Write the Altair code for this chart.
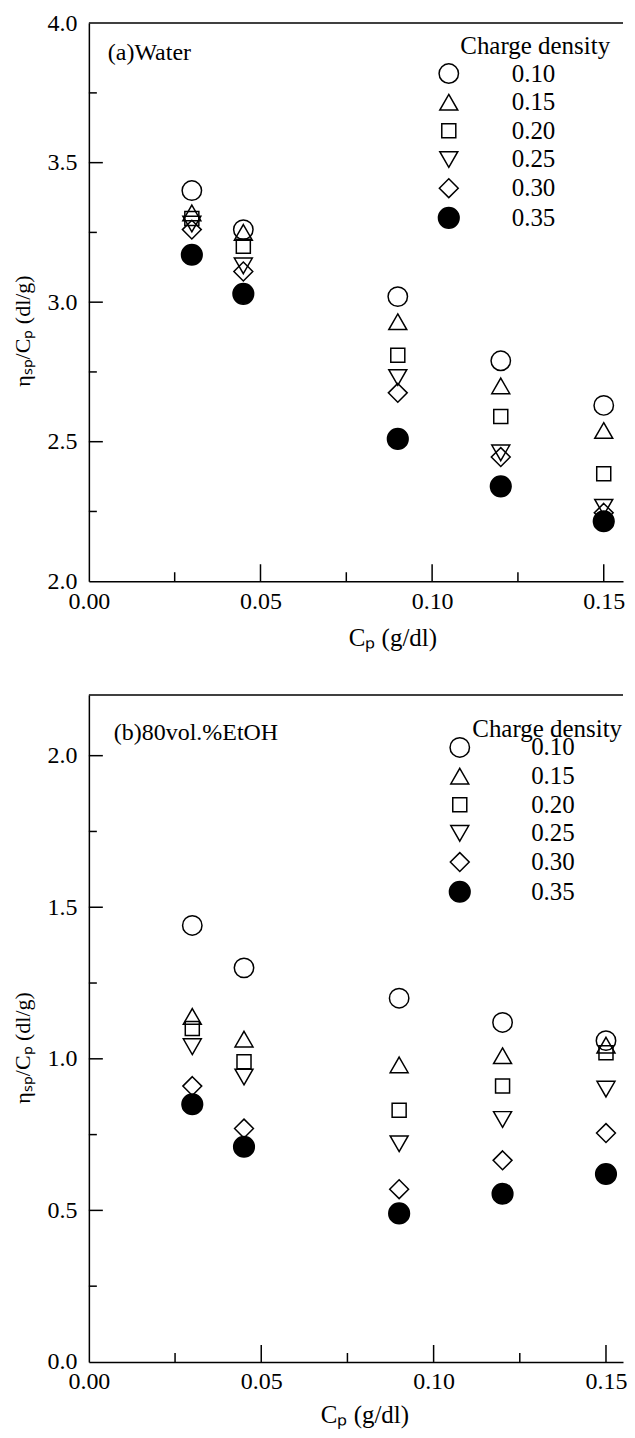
import altair as alt
import pandas as pd

FONT = "Liberation Serif"

# ---------------- data ----------------
cp_values = [0.03, 0.045, 0.09, 0.12, 0.15]
densities = ["0.10", "0.15", "0.20", "0.25", "0.30", "0.35"]

# (a) Water
water_010 = [3.40, 3.26, 3.02, 2.79, 2.63]
water_015 = [3.32, 3.25, 2.93, 2.70, 2.54]
water_020 = [3.30, 3.20, 2.81, 2.59, 2.385]
water_025 = [3.28, 3.13, 2.73, 2.46, 2.265]
water_030 = [3.26, 3.11, 2.675, 2.445, 2.245]
water_035 = [3.17, 3.03, 2.51, 2.34, 2.215]

# (b) 80 vol.% EtOH
etoh_010 = [1.44, 1.30, 1.20, 1.12, 1.06]
etoh_015 = [1.14, 1.065, 0.98, 1.01, 1.045]
etoh_020 = [1.10, 0.99, 0.83, 0.91, 1.02]
etoh_025 = [1.04, 0.94, 0.72, 0.80, 0.90]
etoh_030 = [0.91, 0.77, 0.57, 0.665, 0.755]
etoh_035 = [0.85, 0.71, 0.49, 0.555, 0.62]

# axis ticks / labels
x_labels = [0.00, 0.05, 0.10, 0.15]
x_major = [0.05, 0.10, 0.15]
x_minor = [0.025, 0.075, 0.125]
water_y_labels = [2.0, 2.5, 3.0, 3.5, 4.0]
water_y_major = [2.5, 3.0, 3.5]
water_y_minor = [2.25, 2.75, 3.25, 3.75]
etoh_y_labels = [0.0, 0.5, 1.0, 1.5, 2.0]
etoh_y_major = [0.5, 1.0, 1.5, 2.0]
etoh_y_minor = [0.25, 0.75, 1.25, 1.75]

# marker styles
shape_paths = [
    "M1.08,0A1.08,1.08,0,1,1,-1.08,0A1.08,1.08,0,1,1,1.08,0Z",
    "M0,-0.87L1,0.87L-1,0.87Z",
    "M-0.78,-0.78L0.78,-0.78L0.78,0.78L-0.78,0.78Z",
    "M0,0.87L1,-0.87L-1,-0.87Z",
    "M0,-1.05L1.05,0L0,1.05L-1.05,0Z",
    "M1.15,0A1.15,1.15,0,1,1,-1.15,0A1.15,1.15,0,1,1,1.15,0Z",
]
fill_colors = ["transparent"] * 5 + ["black"]
stroke_colors = ["black"] * 6


def long_frame(series):
    rows = []
    for dens, vals in zip(densities, series):
        for cp, v in zip(cp_values, vals):
            rows.append({"cp": cp, "value": v, "density": dens})
    return pd.DataFrame(rows)


def panel(series, y_domain, y_labels, y_major, y_minor, width, height, xmax,
          y_title_x, y_title_y, x_title_x, x_title_y,
          panel_label, label_pos, legend_title_pos, legend_x, legend_y, label_offset):
    df = long_frame(series)
    xscale = alt.Scale(domain=[0, xmax], nice=False, zero=False)
    yscale = alt.Scale(domain=y_domain, nice=False, zero=False)

    x_axis = alt.Axis(
        values=x_labels, format=".2f", title="Cₚ (g/dl)", ticks=False,
        domain=True, domainColor="black", domainWidth=1.5, grid=False,
        labelFont=FONT, labelFontSize=24, labelColor="black", labelPadding=8,
        labelFlush=False, labelOverlap=False,
        titleFont=FONT, titleFontSize=25, titleFontWeight="normal", titleColor="black",
        titleX=x_title_x, titleY=x_title_y, titleBaseline="middle")
    y_axis = alt.Axis(
        values=y_labels, format=".1f", title="ηₛₚ/Cₚ (dl/g)", ticks=False,
        domain=True, domainColor="black", domainWidth=1.5, grid=False,
        labelFont=FONT, labelFontSize=24, labelColor="black", labelPadding=12,
        labelOverlap=False,
        titleFont=FONT, titleFontSize=22, titleFontWeight="normal", titleColor="black",
        titleX=y_title_x, titleY=y_title_y, titleBaseline="middle")

    legend = alt.Legend(
        orient="none", legendX=legend_x, legendY=legend_y, direction="vertical",
        title=None, labelFont=FONT, labelFontSize=25, labelColor="black",
        labelOffset=label_offset, symbolSize=324, symbolStrokeWidth=1.5,
        rowPadding=2.7, padding=0,
    )

    points = alt.Chart(df).mark_point(
        size=324, strokeWidth=1.5, opacity=1, fillOpacity=1, strokeOpacity=1
    ).encode(
        x=alt.X("cp:Q", scale=xscale, axis=x_axis),
        y=alt.Y("value:Q", scale=yscale, axis=y_axis),
        shape=alt.Shape("density:N", scale=alt.Scale(domain=densities, range=shape_paths), legend=legend),
        fill=alt.Fill("density:N", scale=alt.Scale(domain=densities, range=fill_colors), legend=legend),
        stroke=alt.Stroke("density:N", scale=alt.Scale(domain=densities, range=stroke_colors), legend=legend),
    )

    def xticks(vals, length):
        return alt.Chart(pd.DataFrame({"cp": vals})).mark_rule(color="black", strokeWidth=1.5).encode(
            x=alt.X("cp:Q", scale=xscale, axis=x_axis),
            y=alt.value(height), y2=alt.value(height - length))

    def yticks(vals, length):
        return alt.Chart(pd.DataFrame({"value": vals})).mark_rule(color="black", strokeWidth=1.5).encode(
            y=alt.Y("value:Q", scale=yscale, axis=y_axis),
            x=alt.value(0), x2=alt.value(length))

    border = alt.Chart(pd.DataFrame({"t": [0]})).mark_rule(color="black", strokeWidth=1.5).encode(
        x=alt.value(0), x2=alt.value(width), y=alt.value(0))

    plabel = alt.Chart(pd.DataFrame({"txt": [panel_label]})).mark_text(
        align="left", baseline="middle", font=FONT, fontSize=24, color="black"
    ).encode(text="txt:N", x=alt.value(label_pos[0]), y=alt.value(label_pos[1]))

    ltitle = alt.Chart(pd.DataFrame({"txt": ["Charge density"]})).mark_text(
        align="left", baseline="middle", font=FONT, fontSize=25, color="black"
    ).encode(text="txt:N", x=alt.value(legend_title_pos[0]), y=alt.value(legend_title_pos[1]))

    return alt.layer(
        points,
        xticks(x_major, 17), xticks(x_minor, 9),
        yticks(y_major, 14), yticks(y_minor, 8),
        border, plabel, ltitle,
    ).properties(width=width, height=height)


top = panel(
    [water_010, water_015, water_020, water_025, water_030, water_035],
    [2.0, 4.0], water_y_labels, water_y_major, water_y_minor,
    535, 559, 535 / 3438.0,
    -66, 308, 304, 56,
    "(a)Water", (19, 30), (372, 23), 348, 38, 50.5,
)

bottom = panel(
    [etoh_010, etoh_015, etoh_020, etoh_025, etoh_030, etoh_035],
    [0.0, 2.2], etoh_y_labels, etoh_y_major, etoh_y_minor,
    535, 668, 535 / 3453.0,
    -66, 353, 276, 53,
    "(b)80vol.%EtOH", (25, 38), (384, 34), 359, 40, 59,
)

chart = alt.vconcat(top, bottom, spacing=44).resolve_scale(
    shape="independent", fill="independent", stroke="independent"
).resolve_legend(
    shape="independent", fill="independent", stroke="independent"
).properties(
    padding={"left": 4, "top": 2, "right": 0, "bottom": 0}, background="white"
).configure_view(strokeWidth=0)

chart.save("out.html", embed_options={"renderer": "svg", "actions": False})
